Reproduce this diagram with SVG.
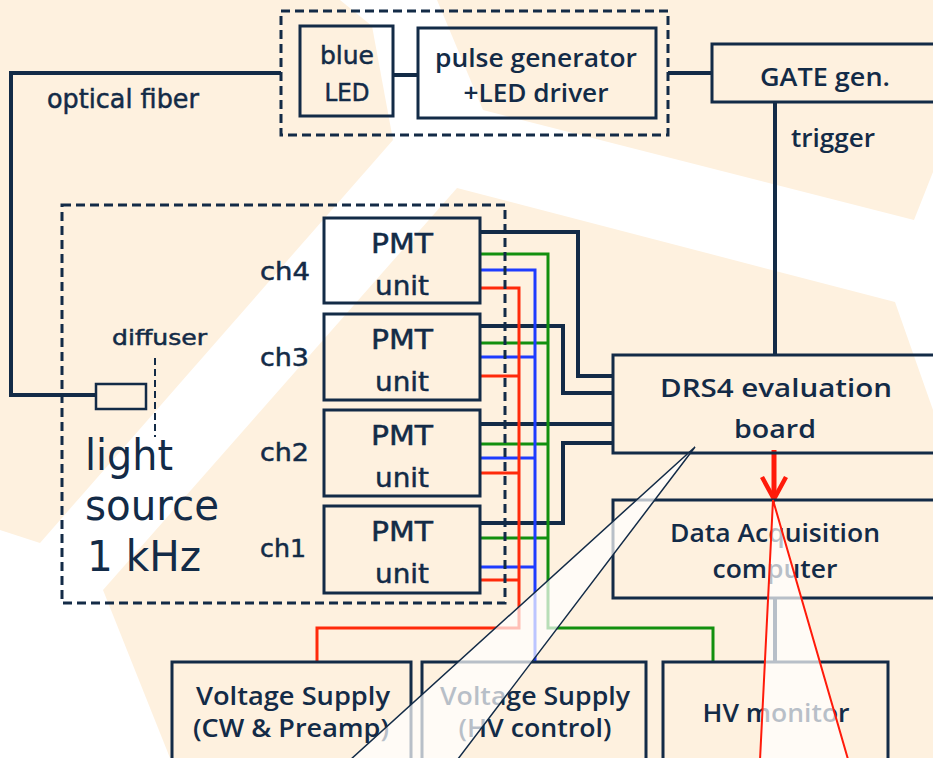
<svg xmlns="http://www.w3.org/2000/svg" width="933" height="758" viewBox="0 0 933 758">
<style>
.bx{fill:none;stroke:#132B47;stroke-width:3}
.dash{fill:none;stroke:#132B47;stroke-width:3;stroke-dasharray:9 5}
.ln{fill:none;stroke:#132B47;stroke-width:4}
.gr{fill:none;stroke:#12900F;stroke-width:3}
.bl{fill:none;stroke:#1E3CFF;stroke-width:3}
.rd{fill:none;stroke:#FF2A0A;stroke-width:3}
.m{font-family:"DejaVu Sans","Noto Sans",sans-serif;fill:#132B47;stroke:#132B47;stroke-width:0.5}
.lt{font-family:"DejaVu Sans","Noto Sans",sans-serif;fill:#132B47}
.c{font-family:"Open Sans","Liberation Sans",sans-serif;fill:#132B47;font-weight:600}
.mid{text-anchor:middle}
</style>
<g id="background">
<rect x="0" y="0" width="933" height="758" fill="#FFFFFF"/>
<polygon points="0,0 340,0 372,26 393,140 40,543 0,530" fill="#FEF1DF"/>
<polygon points="437,0 933,0 933,172 914,220 483,110" fill="#FEF1DF"/>
<polygon points="457,188 895,302 933,410 933,758 170,758 103,590" fill="#FEF1DF"/>
</g>
<g id="connectors">
<path class="ln" d="M281,73 H11 V395 H96"/>
<path class="ln" d="M393,75 H418"/>
<path class="ln" d="M668,73 H712"/>
<path class="ln" d="M775,102 V355"/>
<path class="ln" d="M480,232 H578 V376 H613"/>
<path class="ln" d="M480,326 H563 V393 H613"/>
<path class="ln" d="M480,424 H613"/>
<path class="ln" d="M480,523 H563 V443 H613"/>
<path class="gr" d="M480,254 H548 V628 H713 V662 M480,343 H548 M480,444 H548 M480,538 H548"/>
<path class="bl" d="M480,270 H535 V662 M480,357 H535 M480,458 H535 M480,567 H535"/>
<path class="rd" d="M480,288 H519 V628 H317 V662 M480,376 H519 M480,473 H519 M480,580 H519"/>
<path class="ln" d="M775,598 V662"/>
<path d="M774,450 V496" fill="none" stroke="#FF1A0A" stroke-width="5"/>
<path d="M762,477 L774,499 L786,477" fill="none" stroke="#FF1A0A" stroke-width="4.5"/>
</g>
<g id="led-unit">
<rect class="dash" x="281" y="11" width="387" height="124"/>
</g>
<g id="blue-led">
<rect class="bx" x="300" y="26" width="93" height="90"/>
<text class="m mid" x="347" y="64" font-size="24" textLength="54" lengthAdjust="spacingAndGlyphs">blue</text>
<text class="m mid" x="347" y="101" font-size="24" textLength="45" lengthAdjust="spacingAndGlyphs">LED</text>
</g>
<g id="pulse-generator">
<rect class="bx" x="418" y="28" width="238" height="90"/>
<text class="c mid" x="536" y="67" font-size="25" textLength="202" lengthAdjust="spacingAndGlyphs">pulse generator</text>
<text class="c mid" x="536" y="102" font-size="25" textLength="145" lengthAdjust="spacingAndGlyphs">+LED driver</text>
</g>
<g id="gate-gen">
<rect class="bx" x="712" y="44" width="240" height="58"/>
<text class="c mid" x="825" y="86" font-size="25" textLength="130" lengthAdjust="spacingAndGlyphs">GATE gen.</text>
</g>
<g id="labels">
<text class="m" x="47" y="108" font-size="26" textLength="152" lengthAdjust="spacingAndGlyphs">optical fiber</text>
<text class="c" x="791" y="147" font-size="25" textLength="84" lengthAdjust="spacingAndGlyphs">trigger</text>
<text class="m" x="112" y="345" font-size="21" textLength="95" lengthAdjust="spacingAndGlyphs">diffuser</text>
</g>
<g id="light-source">
<rect class="dash" x="62" y="205" width="443" height="398"/>
<rect x="96" y="384" width="50" height="25" fill="none" stroke="#132B47" stroke-width="2.5"/>
<path d="M155,358 V437" fill="none" stroke="#132B47" stroke-width="2" stroke-dasharray="7 4"/>
<text class="lt" x="85" y="470" font-size="42" textLength="88" lengthAdjust="spacingAndGlyphs">light</text>
<text class="lt" x="85" y="520" font-size="42" textLength="134" lengthAdjust="spacingAndGlyphs">source</text>
<text class="lt" x="87" y="571" font-size="42" textLength="114" lengthAdjust="spacingAndGlyphs">1 kHz</text>
</g>
<g id="pmt-ch4">
<rect class="bx" x="324" y="218" width="156" height="85"/>
<text class="m" x="260" y="280" font-size="24" textLength="50" lengthAdjust="spacingAndGlyphs">ch4</text>
<text class="m mid" x="402" y="253" font-size="27" textLength="62" lengthAdjust="spacingAndGlyphs" stroke-width="1">PMT</text>
<text class="m mid" x="402" y="295" font-size="27" textLength="54" lengthAdjust="spacingAndGlyphs" stroke-width="1">unit</text>
</g>
<g id="pmt-ch3">
<rect class="bx" x="324" y="314" width="156" height="86"/>
<text class="m" x="260" y="366" font-size="24" textLength="49" lengthAdjust="spacingAndGlyphs">ch3</text>
<text class="m mid" x="402" y="349" font-size="27" textLength="62" lengthAdjust="spacingAndGlyphs" stroke-width="1">PMT</text>
<text class="m mid" x="402" y="391" font-size="27" textLength="54" lengthAdjust="spacingAndGlyphs" stroke-width="1">unit</text>
</g>
<g id="pmt-ch2">
<rect class="bx" x="324" y="410" width="156" height="86"/>
<text class="m" x="260" y="461" font-size="24" textLength="49" lengthAdjust="spacingAndGlyphs">ch2</text>
<text class="m mid" x="402" y="445" font-size="27" textLength="62" lengthAdjust="spacingAndGlyphs" stroke-width="1">PMT</text>
<text class="m mid" x="402" y="487" font-size="27" textLength="54" lengthAdjust="spacingAndGlyphs" stroke-width="1">unit</text>
</g>
<g id="pmt-ch1">
<rect class="bx" x="324" y="506" width="156" height="87"/>
<text class="m" x="260" y="557" font-size="24" textLength="46" lengthAdjust="spacingAndGlyphs">ch1</text>
<text class="m mid" x="402" y="541" font-size="27" textLength="62" lengthAdjust="spacingAndGlyphs" stroke-width="1">PMT</text>
<text class="m mid" x="402" y="583" font-size="27" textLength="54" lengthAdjust="spacingAndGlyphs" stroke-width="1">unit</text>
</g>
<g id="drs4">
<rect class="bx" x="613" y="355" width="340" height="98"/>
<text class="c mid" x="776" y="397" font-size="26" textLength="232" lengthAdjust="spacingAndGlyphs">DRS4 evaluation</text>
<text class="c mid" x="775" y="438" font-size="26" textLength="82" lengthAdjust="spacingAndGlyphs">board</text>
</g>
<g id="daq">
<rect class="bx" x="613" y="500" width="340" height="98"/>
<text class="c mid" x="775" y="542" font-size="25" textLength="210" lengthAdjust="spacingAndGlyphs">Data Acquisition</text>
<text class="c mid" x="775" y="578" font-size="25" textLength="125" lengthAdjust="spacingAndGlyphs">computer</text>
</g>
<g id="vs-cw">
<rect class="bx" x="172" y="662" width="239" height="110"/>
<text class="c mid" x="293" y="705" font-size="25" textLength="194" lengthAdjust="spacingAndGlyphs">Voltage Supply</text>
<text class="c mid" x="291" y="737" font-size="25" textLength="196" lengthAdjust="spacingAndGlyphs">(CW &amp; Preamp)</text>
</g>
<g id="vs-hv">
<rect class="bx" x="422" y="662" width="224" height="110"/>
<text class="c mid" x="535" y="705" font-size="25" textLength="190" lengthAdjust="spacingAndGlyphs">Voltage Supply</text>
<text class="c mid" x="535" y="737" font-size="25" textLength="153" lengthAdjust="spacingAndGlyphs">(HV control)</text>
</g>
<g id="hv-monitor">
<rect class="bx" x="663" y="662" width="225" height="110"/>
<text class="c mid" x="776" y="722" font-size="25" textLength="147" lengthAdjust="spacingAndGlyphs">HV monitor</text>
</g>
<g id="callouts">
<polygon points="695,447 328,780 442,780" fill="#FFFFFF" fill-opacity="0.7"/>
<path d="M328,780 L695,447 L442,780" fill="none" stroke="#132B47" stroke-width="1.5"/>
<polygon points="773,500 759,780 854,780" fill="#FFFFFF" fill-opacity="0.7"/>
<path d="M759,780 L773,500 L854,780" fill="none" stroke="#FF1A0A" stroke-width="2"/>
</g>
</svg>
